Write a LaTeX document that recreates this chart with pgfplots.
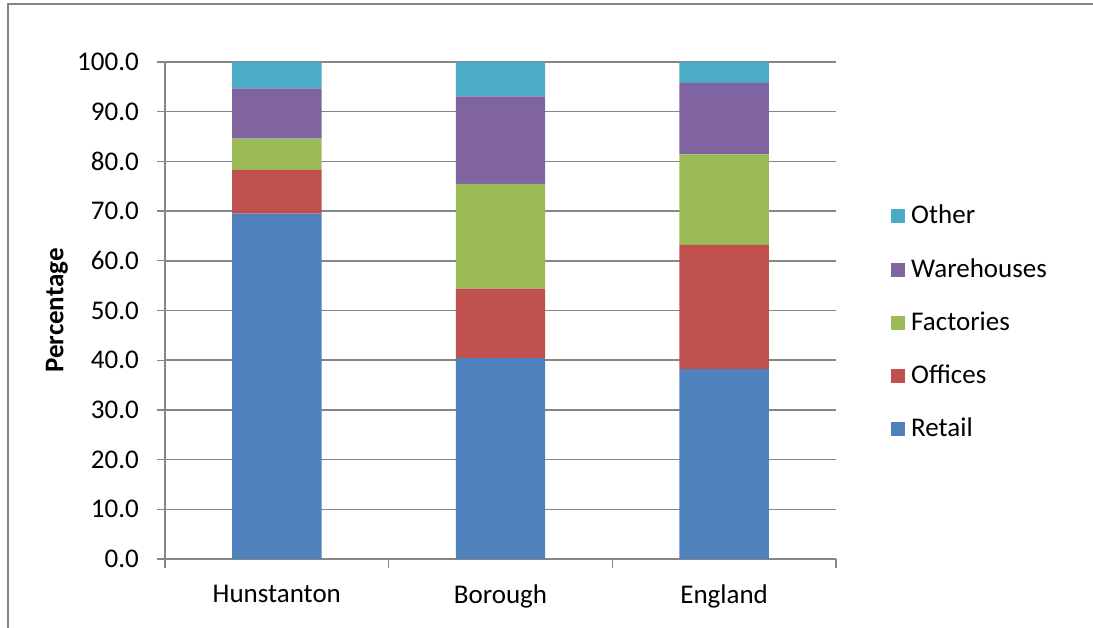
\documentclass[border=0pt]{standalone}
\usepackage{pgfplots}
\pgfplotsset{compat=1.18}
\usepackage{fontspec}
\setmainfont{Carlito}
\definecolor{cRetail}{HTML}{4F81BD}
\definecolor{cOffices}{HTML}{C0504D}
\definecolor{cFactories}{HTML}{9BBB59}
\definecolor{cWarehouses}{HTML}{8064A2}
\definecolor{cOther}{HTML}{4BACC6}
\definecolor{gridgray}{HTML}{868686}
\begin{document}
\fontsize{27bp}{32bp}\selectfont
\begin{tikzpicture}[x=1bp,y=1bp]
\useasboundingbox (0,0) rectangle (1093,628);
\begin{scope}
\clip (0,0) rectangle (1093,628);
\draw[gridgray, line width=1.5bp] (8,-10) -- (8,624) -- (1110,624);
\end{scope}
\begin{axis}[
  at={(165bp,69bp)}, anchor=south west,
  scale only axis, width=671bp, height=497bp,
  ybar stacked, bar width=0.4,
  xmin=-0.5, xmax=2.5, ymin=0, ymax=100,
  xtick={0,1,2},
  xticklabels={Hunstanton,Borough,England},
  major x tick style={draw=none},
  minor xtick={-0.5,0.5,1.5,2.5},
  minor tick length=9bp,
  major tick length=8bp,
  tick align=outside,
  ytick={0,10,...,100},
  /pgf/number format/fixed,
  /pgf/number format/fixed zerofill,
  /pgf/number format/precision=1,
  /pgf/number format/assume math mode=true,
  yticklabel style={xshift=-9bp},
  xticklabel style={yshift=-9bp},
  tick style={gridgray, line width=1.3bp},
  axis lines*=left,
  axis line style={gridgray, line width=1.3bp},
  ymajorgrids, grid style={gridgray, line width=1.5bp},
  ylabel={\bfseries Percentage},
  ylabel style={at={(axis description cs:-0.161,0.5)}, anchor=center},
  legend style={draw=none, fill=none, at={(axis description cs:1.082,0.475)}, anchor=west,
    row sep=26.5bp, font=\fontsize{27bp}{32bp}\selectfont, inner sep=0pt},
  legend cell align=left,
  reverse legend,
  legend image code/.code={\fill[#1] (0bp,-7bp) rectangle (14bp,7bp); \path (18bp,0bp);},
  every axis plot/.append style={draw=none},
]
\addplot[fill=cRetail] coordinates {(0,69.5) (1,40.4) (2,38.2)};
\addplot[fill=cOffices] coordinates {(0,8.8) (1,14.0) (2,25.0)};
\addplot[fill=cFactories] coordinates {(0,6.3) (1,21.1) (2,18.2)};
\addplot[fill=cWarehouses] coordinates {(0,10.1) (1,17.6) (2,14.4)};
\addplot[fill=cOther] coordinates {(0,5.3) (1,6.9) (2,4.2)};
\legend{Retail,Offices,Factories,Warehouses,Other}
\end{axis}
\end{tikzpicture}
\end{document}
